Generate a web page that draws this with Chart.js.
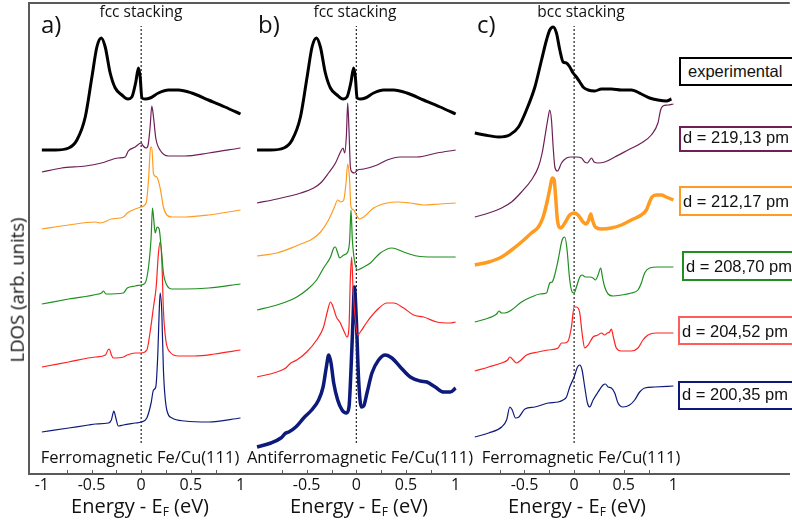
<!DOCTYPE html>
<html>
<head>
<meta charset="utf-8">
<script src="https://cdn.jsdelivr.net/npm/chart.js@4.4.0/dist/chart.umd.min.js"></script>
<style>
  html, body { margin: 0; padding: 0; background: #fff; }
  #wrap { position: relative; width: 792px; height: 523px; overflow: hidden; font-family: 'Open Sans', sans-serif; color: #111; }
  #wrap canvas { position: absolute; left: 0; top: 0; }
  .t { position: absolute; white-space: nowrap; line-height: 1; }
  .c { transform: translateX(-50%); }
  .box { position: absolute; width: 125px; border: 2px solid; box-sizing: border-box; background: #fff;
         font-family: 'Liberation Sans', Arial, sans-serif; font-size: 16.5px; line-height: 18px; padding-left: 2px; white-space: nowrap; }
  .sub { font-size: 12px; position: relative; top: 3px; }
</style>
</head>
<body>
<div id="wrap">
  <canvas id="chart" width="792" height="523"></canvas>

  <div class="t" style="left:41px;top:12px;font-size:24px">a)</div>
  <div class="t" style="left:258px;top:12px;font-size:24px">b)</div>
  <div class="t" style="left:477px;top:12px;font-size:24px">c)</div>

  <div class="t c" style="left:141px;top:4px;font-size:15.5px">fcc stacking</div>
  <div class="t c" style="left:355px;top:4px;font-size:15.5px">fcc stacking</div>
  <div class="t c" style="left:581px;top:4px;font-size:15.5px">bcc stacking</div>

  <div class="t c" style="left:140px;top:449px;font-size:16.5px">Ferromagnetic Fe/Cu(111)</div>
  <div class="t c" style="left:360px;top:449px;font-size:16.5px">Antiferromagnetic Fe/Cu(111)</div>
  <div class="t c" style="left:581px;top:449px;font-size:16.5px">Ferromagnetic Fe/Cu(111)</div>

  <div class="t c" style="left:140px;top:496px;font-size:20px">Energy - E<span class="sub">F</span> (eV)</div>
  <div class="t c" style="left:359px;top:496px;font-size:20px">Energy - E<span class="sub">F</span> (eV)</div>
  <div class="t c" style="left:577px;top:496px;font-size:20px">Energy - E<span class="sub">F</span> (eV)</div>

  <div class="t" style="left:17px;top:290px;font-size:18.5px;transform:translate(-50%,-50%) rotate(-90deg)">LDOS (arb. units)</div>

  <div class="box" style="left:679px;top:57px;height:29px;padding-top:3px;padding-left:7px;border-color:#000">experimental</div>
  <div class="box" style="left:679px;top:126px;height:26px;padding-top:0px;border-color:#6d1f56">d = 219,13 pm</div>
  <div class="box" style="left:679px;top:186px;height:30px;padding-top:4px;border-color:#ff9b21">d = 212,17 pm</div>
  <div class="box" style="left:682px;top:251px;height:30px;padding-top:4px;border-color:#1f8f1f">d = 208,70 pm</div>
  <div class="box" style="left:678px;top:316px;height:29px;padding-top:4px;border-color:#ff5c5c">d = 204,52 pm</div>
  <div class="box" style="left:678px;top:381px;height:29px;padding-top:2px;border-color:#0d1a7a">d = 200,35 pm</div>
</div>

<script>
const colors = {
  exp: '#000000',
  d219: '#6d1f56',
  d212: '#ff9b21',
  d208: '#1f8f1f',
  d204: '#ff2222',
  d200: '#0d1a7a',
  axis: '#5a5a5a',
};

// energy (eV), LDOS (arb. units, curves already offset as plotted)
const fccExp = [[-1, 32.4], [-0.864, 32.4], [-0.73, 32.6], [-0.647, 33.4], [-0.563, 35.7], [-0.496, 39.7], [-0.446, 42.7], [-0.402, 43.6], [-0.362, 42.7], [-0.312, 40.1], [-0.261, 38.6], [-0.194, 37.9], [-0.134, 37.5], [-0.094, 37.7], [-0.054, 39.2], [-0.027, 40.6], [-0.01, 39.7], [0.007, 37.6], [0.04, 37.5], [0.09, 37.6], [0.174, 38.1], [0.275, 38.4], [0.375, 38.4], [0.509, 38.1], [0.677, 37.4], [0.844, 36.7], [1, 36.0]];
const bccExp = [[-1, 34.1], [-0.9, 33.9], [-0.76, 33.7], [-0.65, 33.9], [-0.56, 34.7], [-0.48, 36.4], [-0.395, 38.7], [-0.328, 41.4], [-0.278, 43.4], [-0.245, 44.4], [-0.211, 44.7], [-0.178, 44.1], [-0.144, 42.4], [-0.111, 41.2], [-0.077, 41.1], [-0.044, 40.7], [-0.01, 40.1], [0.023, 39.7], [0.057, 39.2], [0.09, 38.7], [0.141, 38.4], [0.208, 38.3], [0.275, 38.5], [0.375, 38.5], [0.476, 38.4], [0.576, 38.4], [0.677, 38.0], [0.76, 37.6], [0.844, 37.4], [0.928, 37.3], [0.98, 37.5]];

// a) ferromagnetic, fcc
const a219 = [[-1, 30.2], [-0.8, 30.6], [-0.56, 30.8], [-0.4, 31.1], [-0.23, 31.6], [-0.16, 31.7], [-0.13, 32.3], [-0.06, 32.7], [0, 33.1], [0.02, 32.8], [0.05, 32.6], [0.07, 32.9], [0.09, 34.7], [0.107, 36.8], [0.124, 35.7], [0.147, 33.6], [0.19, 32.4], [0.275, 31.8], [0.44, 31.8], [0.68, 32.1], [1, 32.6]];
const a212 = [[-1, 24.5], [-0.73, 24.9], [-0.46, 25.2], [-0.41, 25.1], [-0.3, 25.5], [-0.18, 25.7], [-0.14, 26.1], [-0.06, 26.5], [0, 26.7], [0.05, 27.1], [0.074, 29.4], [0.094, 32.6], [0.107, 32.7], [0.124, 30.0], [0.157, 29.7], [0.191, 28.6], [0.224, 26.7], [0.258, 25.9], [0.31, 25.7], [0.44, 25.7], [0.68, 25.9], [1, 26.4]];
const a208 = [[-1, 17.0], [-0.73, 17.5], [-0.43, 18.0], [-0.4, 18.1], [-0.38, 18.3], [-0.355, 18.0], [-0.18, 18.1], [-0.14, 18.6], [-0.06, 18.8], [0, 18.9], [0.04, 19.1], [0.074, 20.7], [0.1, 23.6], [0.114, 26.6], [0.127, 25.4], [0.141, 24.1], [0.161, 24.7], [0.181, 24.5], [0.201, 22.7], [0.224, 20.1], [0.258, 18.9], [0.31, 18.5], [0.44, 18.5], [0.68, 18.6], [1, 19.0]];
const a204 = [[-1, 10.7], [-0.73, 11.2], [-0.46, 11.7], [-0.36, 11.9], [-0.335, 12.4], [-0.32, 12.5], [-0.3, 11.9], [-0.28, 11.6], [-0.18, 11.7], [-0.14, 11.9], [-0.06, 12.1], [0, 12.1], [0.057, 12.4], [0.09, 14.2], [0.124, 16.7], [0.151, 18.7], [0.174, 22.1], [0.191, 23.2], [0.208, 21.4], [0.224, 16.4], [0.248, 13.4], [0.29, 12.2], [0.375, 11.8], [0.54, 11.8], [0.74, 12.0], [1, 12.4]];
const a200 = [[-1, 4.2], [-0.73, 4.6], [-0.53, 4.9], [-0.46, 5.0], [-0.33, 5.1], [-0.3, 5.4], [-0.275, 6.3], [-0.255, 5.6], [-0.23, 4.8], [-0.18, 4.9], [-0.06, 5.1], [0, 5.2], [0.057, 5.6], [0.1, 7.1], [0.124, 8.4], [0.147, 8.7], [0.168, 12.1], [0.181, 16.1], [0.191, 18.1], [0.208, 16.1], [0.224, 10.4], [0.258, 6.4], [0.31, 5.6], [0.44, 5.3], [0.68, 5.2], [1, 5.6]];

// b) antiferromagnetic, fcc
const b219 = [[-1, 27.1], [-0.8, 27.5], [-0.56, 28.1], [-0.43, 28.6], [-0.36, 29.1], [-0.28, 30.1], [-0.21, 31.1], [-0.16, 32.2], [-0.134, 32.6], [-0.117, 32.1], [-0.1, 33.9], [-0.087, 37.1], [-0.074, 34.4], [-0.06, 30.7], [-0.044, 30.2], [-0.02, 30.1], [0.013, 30.4], [0.074, 30.5], [0.21, 30.9], [0.31, 31.4], [0.44, 31.7], [0.61, 31.7], [0.81, 32.1], [1, 32.4]];
const b212 = [[-1, 21.8], [-0.8, 22.1], [-0.63, 22.7], [-0.56, 23.0], [-0.46, 23.4], [-0.36, 24.2], [-0.28, 25.4], [-0.22, 26.7], [-0.188, 27.4], [-0.154, 27.2], [-0.127, 27.4], [-0.104, 29.1], [-0.087, 31.0], [-0.07, 29.7], [-0.054, 26.7], [-0.027, 26.4], [0, 25.9], [0.034, 25.5], [0.074, 25.7], [0.174, 26.6], [0.31, 27.1], [0.41, 27.2], [0.54, 27.1], [0.68, 26.9], [0.84, 27.0], [1, 27.1]];
const b208 = [[-1, 16.4], [-0.8, 16.9], [-0.66, 17.4], [-0.6, 17.7], [-0.5, 18.4], [-0.4, 19.4], [-0.33, 20.6], [-0.26, 21.7], [-0.228, 22.6], [-0.211, 22.7], [-0.188, 22.1], [-0.168, 21.6], [-0.127, 21.9], [-0.087, 22.2], [-0.067, 23.4], [-0.054, 26.4], [-0.04, 23.4], [-0.02, 21.4], [0.013, 20.4], [0.074, 20.7], [0.141, 21.1], [0.241, 22.1], [0.358, 22.6], [0.476, 22.2], [0.61, 21.8], [0.78, 21.7], [1, 21.7]];
const b204 = [[-1, 9.7], [-0.8, 10.2], [-0.71, 10.6], [-0.66, 11.1], [-0.6, 11.4], [-0.5, 12.2], [-0.4, 13.4], [-0.33, 14.7], [-0.288, 16.4], [-0.261, 17.2], [-0.234, 16.7], [-0.201, 15.7], [-0.161, 15.1], [-0.121, 14.2], [-0.094, 13.7], [-0.074, 14.7], [-0.06, 19.7], [-0.047, 21.7], [-0.034, 18.7], [-0.01, 15.4], [0.013, 13.9], [0.04, 14.2], [0.107, 15.2], [0.208, 16.4], [0.308, 17.1], [0.375, 17.1], [0.476, 16.6], [0.576, 15.9], [0.677, 15.7], [0.811, 15.2], [0.945, 15.1], [1, 15.2]];
const b200 = [[-1, 2.7], [-0.86, 3.1], [-0.76, 3.6], [-0.71, 4.1], [-0.68, 4.2], [-0.61, 4.7], [-0.53, 5.6], [-0.45, 6.4], [-0.38, 7.4], [-0.335, 8.7], [-0.302, 10.7], [-0.278, 11.9], [-0.255, 11.1], [-0.228, 9.1], [-0.188, 7.4], [-0.144, 6.4], [-0.1, 6.1], [-0.074, 6.7], [-0.054, 10.4], [-0.034, 15.4], [-0.02, 18.7], [0, 15.4], [0.023, 9.4], [0.05, 6.7], [0.074, 6.8], [0.107, 8.1], [0.157, 10.1], [0.224, 11.4], [0.291, 11.9], [0.358, 11.6], [0.442, 10.7], [0.543, 9.7], [0.643, 9.3], [0.71, 9.2], [0.794, 8.7], [0.878, 8.2], [0.945, 8.2], [1, 8.6]];

// c) ferromagnetic, bcc
const c219 = [[-1, 25.7], [-0.86, 26.1], [-0.73, 26.6], [-0.63, 27.2], [-0.53, 28.2], [-0.43, 29.4], [-0.36, 30.7], [-0.322, 32.1], [-0.288, 34.1], [-0.261, 35.7], [-0.245, 36.4], [-0.228, 35.4], [-0.211, 32.7], [-0.194, 30.7], [-0.168, 30.3], [-0.127, 31.1], [-0.077, 31.6], [-0.027, 31.7], [0.023, 31.7], [0.074, 31.6], [0.107, 31.2], [0.134, 31.1], [0.157, 31.4], [0.174, 31.6], [0.201, 31.2], [0.241, 31.1], [0.308, 31.2], [0.409, 31.7], [0.543, 32.4], [0.677, 33.1], [0.777, 33.9], [0.844, 35.1], [0.871, 36.4], [0.894, 36.8], [0.945, 36.9], [1, 37.0]];
const c212 = [[-1, 20.9], [-0.86, 21.2], [-0.73, 21.7], [-0.63, 22.4], [-0.53, 23.2], [-0.43, 24.1], [-0.36, 24.7], [-0.312, 25.7], [-0.268, 27.4], [-0.241, 28.7], [-0.221, 29.6], [-0.201, 29.4], [-0.184, 27.4], [-0.168, 25.4], [-0.134, 24.6], [-0.094, 25.1], [-0.044, 25.9], [0, 26.1], [0.04, 25.9], [0.09, 25.2], [0.124, 25.0], [0.147, 25.4], [0.168, 26.0], [0.184, 25.4], [0.214, 24.7], [0.275, 24.5], [0.375, 24.6], [0.476, 24.9], [0.576, 25.4], [0.677, 25.9], [0.727, 26.4], [0.76, 27.2], [0.784, 27.7], [0.827, 27.9], [0.878, 27.9], [0.928, 27.7], [1, 27.4]];
const c208 = [[-1, 15.2], [-0.86, 15.6], [-0.78, 16.0], [-0.757, 16.3], [-0.73, 16.1], [-0.697, 16.1], [-0.63, 16.4], [-0.53, 17.2], [-0.43, 17.7], [-0.345, 18.0], [-0.278, 18.1], [-0.245, 19.1], [-0.221, 19.2], [-0.201, 19.7], [-0.161, 21.4], [-0.121, 23.4], [-0.094, 23.7], [-0.074, 22.7], [-0.044, 19.4], [-0.02, 18.2], [0, 18.1], [0.023, 18.7], [0.057, 19.7], [0.08, 19.9], [0.114, 19.7], [0.157, 19.7], [0.191, 19.6], [0.214, 19.4], [0.241, 19.9], [0.268, 20.6], [0.285, 19.7], [0.308, 18.7], [0.342, 18.0], [0.392, 17.8], [0.476, 17.9], [0.576, 18.1], [0.643, 18.4], [0.677, 19.1], [0.71, 20.1], [0.76, 20.6], [0.844, 20.7], [1, 20.7]];
const c204 = [[-1, 10.3], [-0.86, 10.7], [-0.73, 11.1], [-0.67, 11.4], [-0.647, 11.7], [-0.623, 11.5], [-0.58, 11.1], [-0.546, 11.3], [-0.479, 11.9], [-0.362, 12.2], [-0.261, 12.4], [-0.161, 12.6], [-0.127, 13.1], [-0.094, 13.1], [-0.06, 13.3], [-0.027, 14.7], [0, 16.7], [0.023, 16.7], [0.057, 16.1], [0.08, 14.1], [0.107, 12.6], [0.141, 12.9], [0.191, 13.7], [0.241, 13.9], [0.275, 14.1], [0.308, 13.9], [0.335, 14.1], [0.358, 14.2], [0.375, 14.5], [0.395, 13.7], [0.425, 12.6], [0.476, 12.3], [0.576, 12.3], [0.643, 12.6], [0.693, 13.4], [0.744, 13.9], [0.827, 14.1], [1, 14.1]];
const c200 = [[-1, 3.7], [-0.86, 4.1], [-0.73, 4.7], [-0.68, 5.4], [-0.647, 6.7], [-0.623, 6.4], [-0.59, 5.6], [-0.556, 5.7], [-0.496, 6.5], [-0.395, 6.7], [-0.261, 7.1], [-0.161, 7.2], [-0.111, 7.4], [-0.077, 7.7], [-0.044, 8.7], [0, 9.7], [0.034, 10.7], [0.057, 10.9], [0.08, 10.4], [0.107, 8.7], [0.134, 7.1], [0.157, 6.7], [0.191, 7.4], [0.241, 8.2], [0.291, 8.9], [0.315, 9.0], [0.342, 8.7], [0.375, 8.6], [0.409, 8.1], [0.442, 7.1], [0.492, 6.7], [0.559, 6.9], [0.61, 7.4], [0.66, 8.2], [0.71, 8.6], [0.811, 8.7], [1, 8.8]];

// Fermi level marker, drawn as a dashed segment at E = 0
const fermiLine = [[0, 3.1], [0, 44.8]];

const tickLabelsA = [-1, -0.5, 0, 0.5, 1];
const tickLabelsBC = [-0.5, 0, 0.5, 1];
const minorTicks = [-0.75, -0.5, -0.25, 0, 0.25, 0.5, 0.75];

Chart.defaults.font.family = "'Open Sans', sans-serif";
Chart.defaults.color = '#111';

const pts = (arr) => arr.map(([x, y]) => ({ x, y }));

const curve = (data, axis, color, width) => ({
  data: pts(data),
  xAxisID: axis,
  yAxisID: 'y',
  borderColor: color,
  borderWidth: width,
  pointRadius: 0,
  fill: false,
  cubicInterpolationMode: 'monotone',
});

const fermi = (axis) => ({
  data: pts(fermiLine),
  xAxisID: axis,
  yAxisID: 'y',
  borderColor: '#222',
  borderWidth: 1.2,
  borderDash: [2, 2],
  pointRadius: 0,
});

const xScale = (min, max, weight, labels) => ({
  type: 'linear',
  position: 'bottom',
  stack: 'panels',
  stackWeight: weight,
  min,
  max,
  afterBuildTicks: (s) => { s.ticks = labels.map((v) => ({ value: v })); },
  afterFit: (s) => { s.height = 49; },
  ticks: { callback: (v) => String(v), autoSkip: false, maxRotation: 0, padding: 2, font: { size: 16 }, color: '#111' },
  grid: { drawOnChartArea: false, drawTicks: false },
  border: { display: true, color: colors.axis, width: 2 },
});

// left/top frame and short inward ticks
const frame = {
  id: 'frame',
  afterDraw(chart) {
    const { ctx, chartArea: a } = chart;
    ctx.save();
    ctx.strokeStyle = colors.axis;
    ctx.lineWidth = 2;
    ctx.beginPath();
    ctx.moveTo(a.left, a.bottom);
    ctx.lineTo(a.left, a.top);
    ctx.lineTo(a.right, a.top);
    ctx.stroke();
    ctx.lineWidth = 1;
    ctx.beginPath();
    ['xa', 'xb', 'xc'].forEach((id) => {
      const s = chart.scales[id];
      minorTicks.forEach((v) => {
        const x = Math.round(s.getPixelForValue(v)) + 0.5;
        ctx.moveTo(x, a.bottom);
        ctx.lineTo(x, a.bottom - 4);
      });
    });
    ctx.stroke();
    ctx.restore();
  },
};

new Chart(document.getElementById('chart'), {
  type: 'line',
  data: {
    datasets: [
      curve(fccExp, 'xa', colors.exp, 3),
      curve(a219, 'xa', colors.d219, 1.2),
      curve(a212, 'xa', colors.d212, 1.2),
      curve(a208, 'xa', colors.d208, 1.2),
      curve(a204, 'xa', colors.d204, 1.2),
      curve(a200, 'xa', colors.d200, 1.2),
      fermi('xa'),
      curve(fccExp, 'xb', colors.exp, 3),
      curve(b219, 'xb', colors.d219, 1.2),
      curve(b212, 'xb', colors.d212, 1.2),
      curve(b208, 'xb', colors.d208, 1.2),
      curve(b204, 'xb', colors.d204, 1.2),
      curve(b200, 'xb', colors.d200, 3.5),
      fermi('xb'),
      curve(bccExp, 'xc', colors.exp, 3),
      curve(c219, 'xc', colors.d219, 1.2),
      curve(c212, 'xc', colors.d212, 3.5),
      curve(c208, 'xc', colors.d208, 1.2),
      curve(c204, 'xc', colors.d204, 1.2),
      curve(c200, 'xc', colors.d200, 1.2),
      fermi('xc'),
    ],
  },
  options: {
    responsive: false,
    animation: false,
    layout: { padding: { left: 29, top: 3, right: 0, bottom: 0 } },
    plugins: { legend: { display: false }, tooltip: { enabled: false } },
    scales: {
      xa: xScale(-1.1295, 1.0894, 221, tickLabelsA),
      xb: xScale(-1.0773, 1.1014, 217, tickLabelsBC),
      xc: xScale(-1.0914, 2.1717, 325, tickLabelsBC),
      y: { type: 'linear', display: false, min: 0, max: 47.1 },
    },
  },
  plugins: [frame],
});
</script>
</body>
</html>
